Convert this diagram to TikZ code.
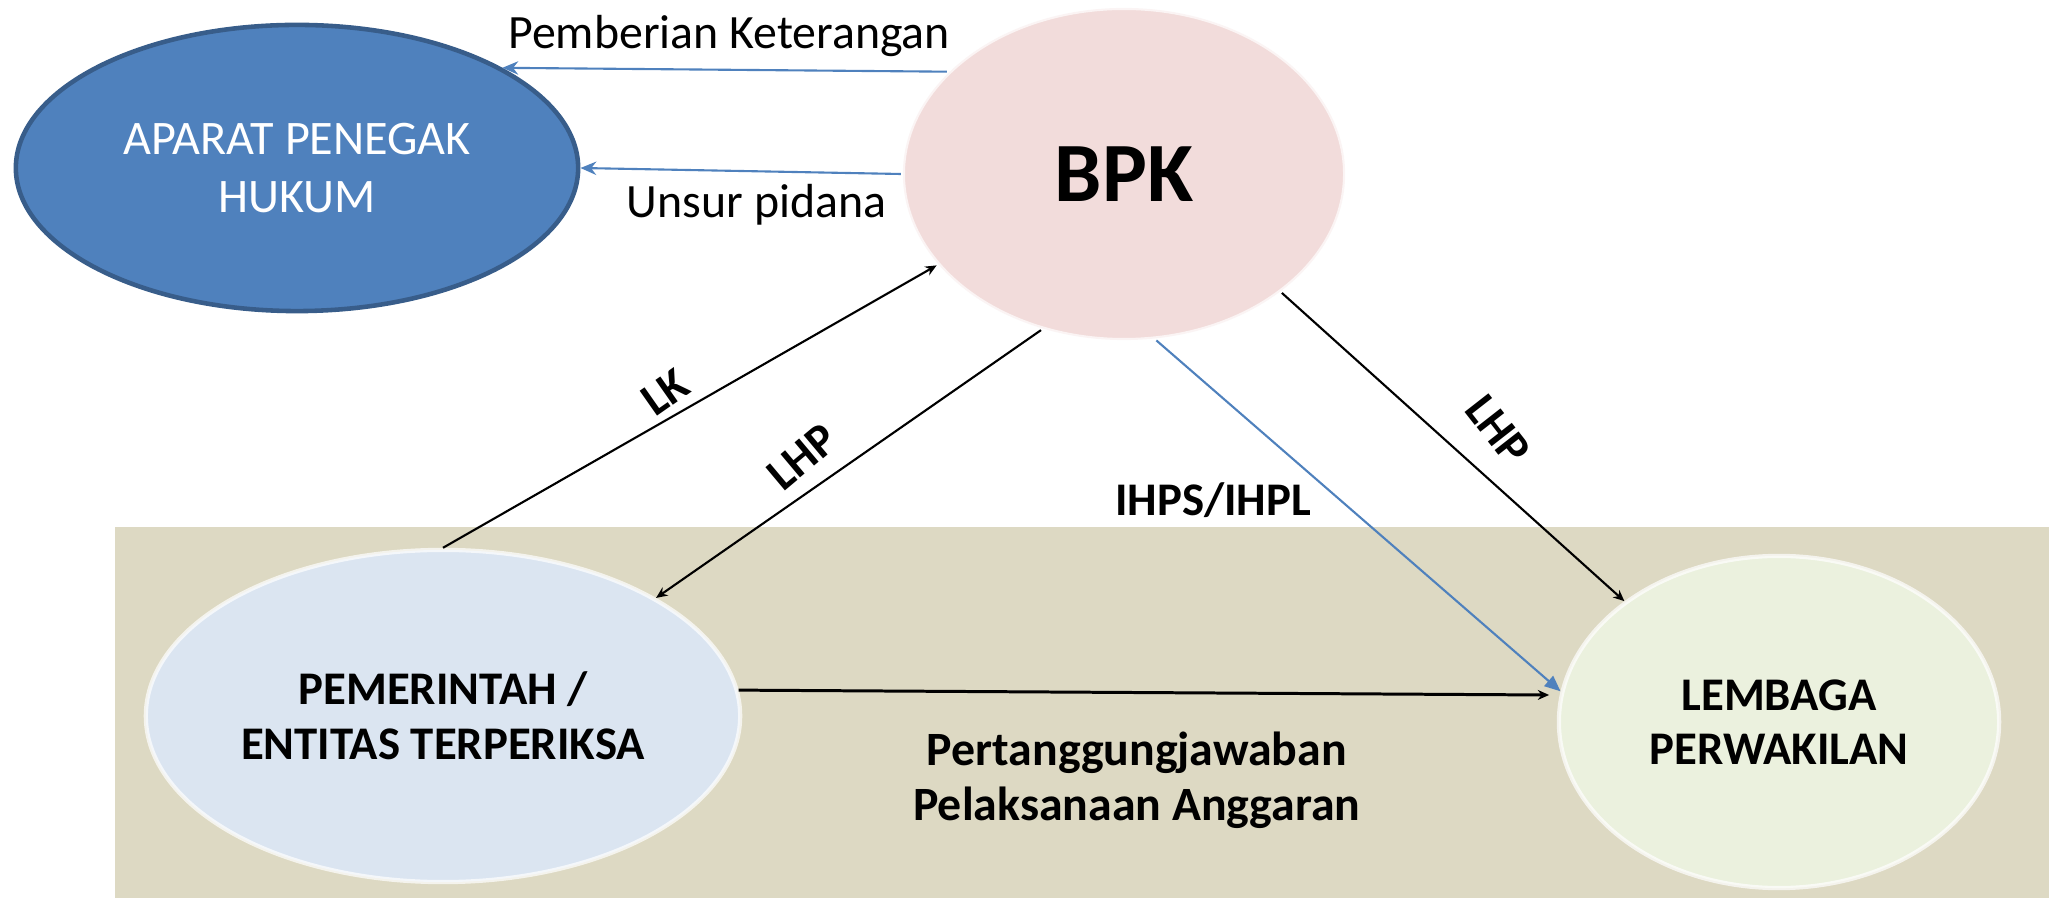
\documentclass[tikz,border=0pt]{standalone}
\usepackage{fontspec}
\setmainfont{Carlito}
\usepackage{tikz}
\usetikzlibrary{shapes.geometric,arrows.meta,positioning}

\definecolor{aparatblue}{HTML}{4F81BD}
\definecolor{aparatedge}{HTML}{385D8A}
\definecolor{bpkpink}{HTML}{F2DCDB}
\definecolor{pemblue}{HTML}{DBE5F1}
\definecolor{lembgreen}{HTML}{EBF1DE}
\definecolor{bandbeige}{HTML}{DDD9C3}

\begin{document}
\begin{tikzpicture}[x=0.01cm, y=-0.01cm]
    \tikzstyle{actor}=[ellipse, inner sep=0pt, minimum height=3.32cm, draw=white, draw opacity=0.7, line width=1.2pt, align=center, font=\fontsize{13.3}{15.5}\selectfont\bfseries];
    \tikzstyle{black arrow}=[-{Stealth[length=3.2pt,width=2.8pt]}, line width=0.6pt];
    \tikzstyle{blue arrow}=[-{Stealth[length=4.5pt,width=3.8pt]}, aparatblue, line width=0.6pt];
    \tikzstyle{lbl}=[text=black, align=center, font=\fontsize{13.3}{15.5}\selectfont\bfseries];
    \tikzstyle{plain lbl}=[text=black, font=\fontsize{13.6}{16}\selectfont];

    \useasboundingbox (0,0) rectangle (2049,898);
    \fill[bandbeige] (115,527) rectangle (2049,898);

    \node[actor, fill=aparatblue, draw=aparatedge, draw opacity=1, line width=1.3pt, minimum width=5.62cm, minimum height=2.86cm, font=\fontsize{13.7}{16.5}\selectfont, text=white] (aparat) at (297,168) {APARAT PENEGAK\\HUKUM};
    \node[actor, fill=bpkpink, minimum width=4.42cm, font=\fontsize{24}{28}\selectfont\bfseries] (bpk) at (1124,174) {BPK};
    \node[actor, fill=pemblue, minimum width=5.94cm] (pemerintah) at (443,716) {PEMERINTAH /\\ENTITAS TERPERIKSA};
    \node[actor, fill=lembgreen, minimum width=4.40cm] (lembaga) at (1779,722) {LEMBAGA\\PERWAKILAN};

    % BPK ke aparat
    \draw[blue arrow] (bpk.150.8) -- node[plain lbl, above, pos=0.49] {Pemberian Keterangan} (aparat.26.8);
    \draw[blue arrow] (bpk.180) -- node[plain lbl, below, pos=0.45] {Unsur pidana} (aparat.0);

    % pemeriksaan
    \draw[black arrow] (pemerintah.90) -- (bpk.206.7);
    \draw[black arrow] (bpk.242.9) -- (pemerintah.29.2);
    \draw[blue arrow, -{Triangle[length=4.5pt,width=3.8pt]}] (bpk.281.2) -- (lembaga.172.5);
    \draw[black arrow] (bpk.323.4) -- (lembaga.142.9);
    \draw[black arrow, line width=0.85pt, shorten >=3pt] (pemerintah.5.4) -- node[lbl, below=7.5pt, pos=0.485, font=\fontsize{13.6}{15.5}\selectfont\bfseries] {Pertanggungjawaban\\Pelaksanaan Anggaran} (lembaga.173.8);

    \node[lbl, rotate=35] (lk) at (665,392) {LK};
    \node[lbl, rotate=40] (lhpkiri) at (802,457) {LHP};
    \node[lbl, rotate=-52] (lhpkanan) at (1498,430) {LHP};
    \node[lbl] (ihps) at (1213,500) {IHPS/IHPL};
\end{tikzpicture}
\end{document}
